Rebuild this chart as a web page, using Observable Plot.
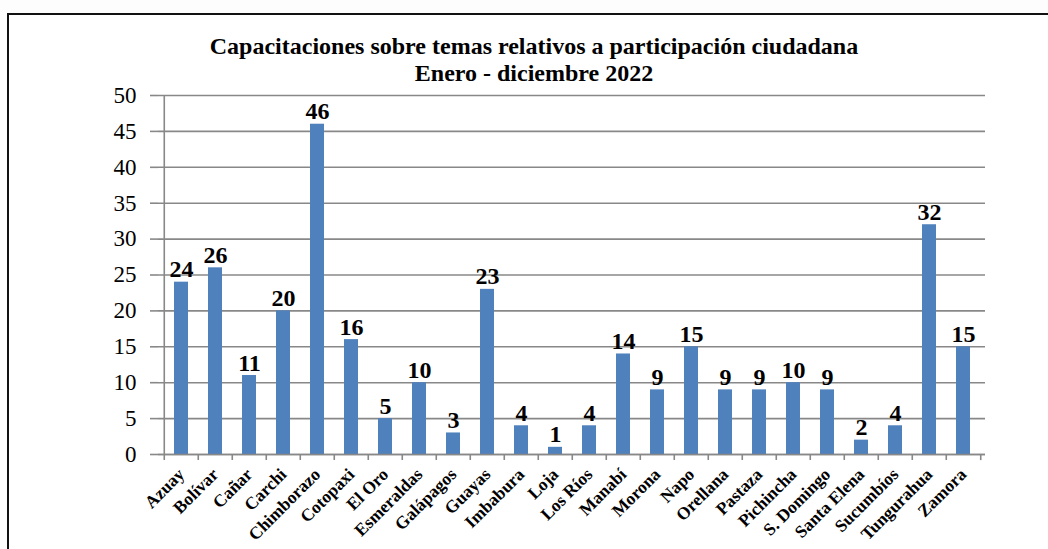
<!DOCTYPE html>
<html>
<head>
<meta charset="utf-8">
<script src="https://cdn.jsdelivr.net/npm/d3@7"></script>
<script src="https://cdn.jsdelivr.net/npm/@observablehq/plot@0.6"></script>
<style>
  html, body { margin: 0; padding: 0; background: #fdfdfd; }
  #wrap { position: relative; width: 1048px; height: 549px; overflow: hidden; background: #fdfdfd; }
  #frame { position: absolute; left: 7px; top: 13px; width: 1100px; height: 700px; border: 2px solid #111; background: #fff; }
  #chart { position: absolute; left: 0; top: 60px; }
  #title { position: absolute; left: 0; top: 33px; width: 1068px; text-align: center;
           font-family: "Liberation Serif", serif; font-weight: bold; font-size: 24px; line-height: 27px; color: #000; }
</style>
</head>
<body>
<div id="wrap">
  <div id="frame"></div>
  <div id="chart"></div>
  <div id="title">Capacitaciones sobre temas relativos a participación ciudadana<br>Enero - diciembre 2022</div>
</div>
<script>
const categories = ["Azuay", "Bolívar", "Cañar", "Carchi", "Chimborazo", "Cotopaxi", "El Oro", "Esmeraldas", "Galápagos", "Guayas", "Imbabura", "Loja", "Los Ríos", "Manabí", "Morona", "Napo", "Orellana", "Pastaza", "Pichincha", "S. Domingo", "Santa Elena", "Sucumbíos", "Tungurahua", "Zamora"];
const values = [24, 26, 11, 20, 46, 16, 5, 10, 3, 23, 4, 1, 4, 14, 9, 15, 9, 9, 10, 9, 2, 4, 32, 15];
const yTicks = [0, 5, 10, 15, 20, 25, 30, 35, 40, 45, 50];

const data = categories.map((c, i) => ({category: c, value: values[i]}));

const width = 1048, height = 489;
const marginLeft = 158, marginRight = 63;
const halfStep = (width - marginLeft - marginRight) / categories.length / 2;
const grey = "#888888";

const chart = Plot.plot({
  width, height,
  marginTop: 35, marginBottom: 95, marginLeft, marginRight,
  style: {fontFamily: "Liberation Serif, serif", background: "transparent", color: "#000", overflow: "visible"},
  x: {domain: categories, padding: 0},
  y: {domain: [0, 50]},
  marks: [
    Plot.gridY(yTicks, {stroke: grey, strokeOpacity: 1, strokeWidth: 1.6}),
    Plot.axisY(yTicks, {tickSize: 8, tickPadding: 14, fontSize: 23, stroke: grey, strokeWidth: 1.6, label: null, fill: "#000"}),
    Plot.ruleX([categories[0]], {dx: -halfStep, stroke: grey, strokeWidth: 1.6}),
    Plot.barY(data, {x: "category", y: "value", fill: "#4F81BD", insetLeft: 10, insetRight: 10}),
    Plot.ruleY([0], {stroke: grey, strokeWidth: 1.6}),
    Plot.axisX({tickSize: 6, dx: -halfStep, tickFormat: () => "", stroke: grey, strokeWidth: 1.6, label: null}),
    Plot.ruleX([categories[categories.length - 1]], {dx: halfStep, y1: 0, y2: -0.85, stroke: grey, strokeWidth: 1.6}),
    Plot.axisX({tickSize: 0, tickPadding: 17, tickRotate: -45, fontSize: 17.5, fontWeight: "bold", label: null, fill: "#000"}),
    Plot.text(data, {x: "category", y: "value", text: d => String(d.value), lineAnchor: "bottom", dy: -5, fontSize: 24, fontWeight: "bold", fill: "#000"})
  ]
});
document.getElementById("chart").appendChild(chart);
</script>
</body>
</html>
